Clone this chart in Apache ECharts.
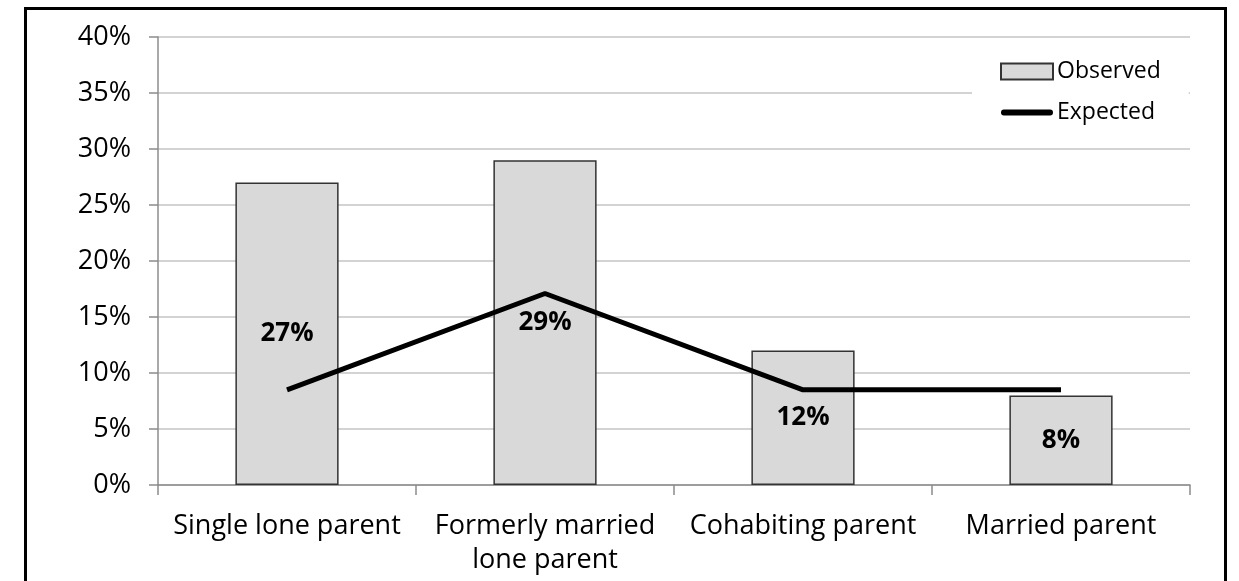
<!DOCTYPE html>
<html>
<head>
<meta charset="utf-8">
<script src="https://cdn.jsdelivr.net/npm/echarts@6/dist/echarts.min.js"></script>
<style>
    html, body { margin: 0; padding: 0; background: #fff; overflow: hidden; }
    #wrap { position: relative; width: 1239px; height: 581px; }
    #frame { position: absolute; left: 24px; top: 7px; width: 1203px; height: 600px; border: 3px solid #000; box-sizing: border-box; }
    #chart { position: absolute; left: 0; top: 0; width: 1239px; height: 581px; }
</style>
</head>
<body>
<div id="wrap">
    <div id="frame"></div>
    <div id="chart"></div>
</div>
<script>
const categories = ['Single lone parent', 'Formerly married\nlone parent', 'Cohabiting parent', 'Married parent'];
const observed = [27, 29, 12, 8];
const expected = [8.5, 17.1, 8.5, 8.5];
const yTicks = [0, 5, 10, 15, 20, 25, 30, 35, 40];

const font = '"Open Sans", "Noto Sans", sans-serif';

var mychart = echarts.init(document.getElementById('chart'));
var option = {
    animation: false,
    textStyle: { fontFamily: font },
    grid: {
        left: 158,
        right: 49,
        top: 37,
        bottom: 96
    },
    legend: {
        orient: 'vertical',
        left: 972,
        top: 54,
        padding: [6, 28, 12, 28],
        backgroundColor: '#fff',
        itemWidth: 52,
        itemHeight: 16,
        itemGap: 18,
        textStyle: { fontSize: 23, color: '#000', fontFamily: font, padding: [0, 0, 0, -1] },
        data: [
            { name: 'Observed', icon: 'rect' },
            { name: 'Expected', icon: 'path://M2,0H50A3,3 0 0 1 50,6H2A3,3 0 0 1 2,0Z' }
        ]
    },
    xAxis: {
        type: 'category',
        data: categories,
        axisLine: { lineStyle: { color: '#8c8c8c', width: 1.5 } },
        axisTick: { show: true, interval: 0, length: 10, lineStyle: { color: '#8c8c8c', width: 1.5 } },
        axisLabel: {
            interval: 0,
            fontSize: 27,
            color: '#000',
            margin: 24,
            lineHeight: 34,
            fontFamily: font
        }
    },
    yAxis: {
        type: 'value',
        min: yTicks[0],
        max: yTicks[yTicks.length - 1],
        interval: 5,
        axisLine: { show: true, lineStyle: { color: '#8c8c8c', width: 1.5 } },
        axisTick: { show: true, length: 9, lineStyle: { color: '#8c8c8c', width: 1.5 } },
        axisLabel: {
            formatter: '{value}%',
            fontSize: 27,
            color: '#000',
            margin: 27,
            fontFamily: font
        },
        splitLine: { lineStyle: { color: '#c4c4c4', width: 1.5 } }
    },
    series: [
        {
            name: 'Observed',
            type: 'bar',
            data: observed,
            barWidth: '40%',
            itemStyle: { color: '#d9d9d9', borderColor: '#333', borderWidth: 1.5 },
            label: {
                show: true,
                position: 'inside',
                formatter: '{c}%',
                fontSize: 26,
                fontWeight: 'bold',
                color: '#000',
                fontFamily: font
            },
            z: 2
        },
        {
            name: 'Expected',
            type: 'line',
            data: expected,
            symbol: 'none',
            symbolKeepAspect: true,
            lineStyle: { color: '#000', width: 5 },
            itemStyle: { color: '#000' },
            z: 3
        }
    ]
};
mychart.setOption(option);
</script>
</body>
</html>
